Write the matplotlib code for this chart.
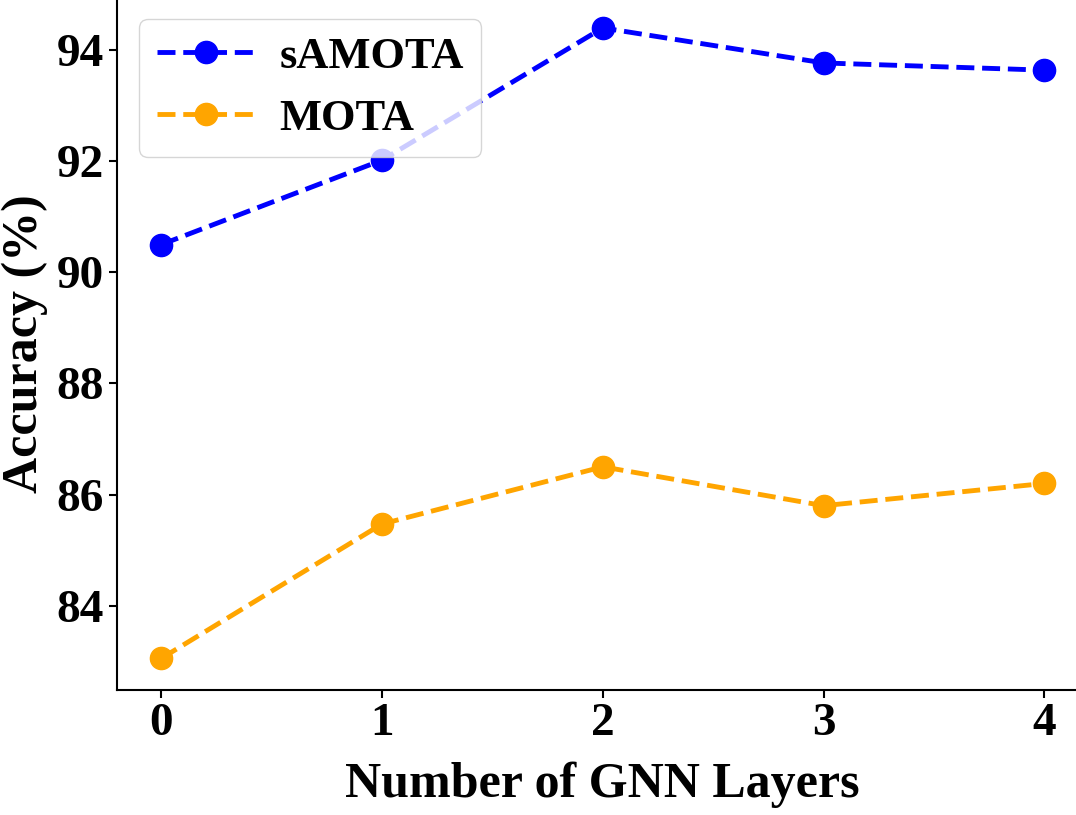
import matplotlib
matplotlib.use('Agg')
import matplotlib.pyplot as plt

layers = [0, 1, 2, 3, 4]
samota = [90.50, 92.02, 94.40, 93.77, 93.64]
mota = [83.05, 85.47, 86.50, 85.80, 86.20]

plt.rcParams['font.family'] = 'Liberation Serif'
plt.rcParams['font.weight'] = 'bold'

fig = plt.figure(figsize=(10.76, 8.15), dpi=100)
# the original picture is cropped, so the axes run past the top and right edge
ax = fig.add_axes([0.1087, 0.1534, 0.903, 0.851])

ax.plot(layers, samota, '--o', color='blue', lw=3.5, markersize=16, label='sAMOTA')
ax.plot(layers, mota, '--o', color='orange', lw=3.5, markersize=16, label='MOTA')

ax.set_xticks(layers)
ax.set_yticks([84, 86, 88, 90, 92, 94])
ax.tick_params(labelsize=34, length=6, width=1.5)
for s in ax.spines.values():
    s.set_linewidth(1.5)

ax.set_xlabel('Number of GNN Layers', fontsize=36, fontweight='bold', labelpad=12)
ax.set_ylabel('Accuracy (%)', fontsize=36, fontweight='bold', labelpad=6)

ax.legend(loc='upper left', fontsize=32, handlelength=2.2, handletextpad=0.55)

fig.savefig('out.png', dpi=100)
